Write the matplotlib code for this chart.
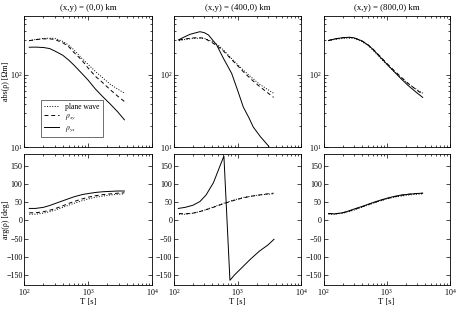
import numpy as np
import matplotlib
matplotlib.use("Agg")
import matplotlib.pyplot as plt
from matplotlib.ticker import LogLocator, NullFormatter

plt.rcParams['font.family'] = ['Liberation Serif', 'DejaVu Serif']
plt.rcParams['mathtext.fontset'] = 'stix'

# ---------------- data ----------------
titles = ["(x,y) = (0,0) km", "(x,y) = (400,0) km", "(x,y) = (800,0) km"]
T = [120, 150, 200, 250, 300, 400, 500, 600, 800, 1000, 1300, 1700, 2200, 2900, 3700]

# apparent resistivity [Ohm m]
pw_rho = [298, 310, 320, 323, 321, 292, 258, 222, 170, 140, 112, 91, 75, 64, 56]
xy_rho_0 = [298, 308, 316, 316, 310, 280, 245, 205, 160, 125, 96, 78, 63, 51, 43]
yx_rho_0 = [242, 243, 240, 232, 215, 188, 160, 137, 105, 85, 64, 50, 40, 31, 24]
xy_rho_400 = [305, 315, 326, 328, 322, 280, 245, 215, 165, 135, 106, 85, 70, 58, 49]
T_yx_400 = [117, 150, 180, 256, 300, 350, 470, 600, 810, 1000, 1235, 1500, 1775, 2300, 3055, 3700]
yx_rho_400 = [305, 340, 366, 397, 385, 357, 260, 170, 105, 62, 36, 26, 19, 14, 10.5, 8]
xy_rho_800 = [300, 315, 328, 332, 328, 298, 264, 230, 178, 145, 116, 93, 76, 63, 54]
yx_rho_800 = [300, 315, 328, 332, 328, 298, 262, 228, 175, 142, 112, 88, 71, 58, 49]

# phase [deg]
pw_phi = [17, 17, 20, 24, 28, 36, 42, 47, 54, 59, 64, 67, 70, 72, 73]
xy_phi_0 = [21, 21, 24, 28, 32, 40, 47, 52, 59, 64, 68, 71, 73, 75, 76]
yx_phi_0 = [33, 33, 36, 41, 46, 54, 60, 65, 71, 74, 77, 79, 80, 81, 81]
xy_phi_400 = [19, 18, 20, 24, 28, 35, 41, 46, 53, 58, 63, 67, 70, 73, 75]
T_yx_phi_400 = [117, 150, 200, 256, 320, 418, 530, 611, 760, 900, 1100, 1573, 2200, 3000, 3760]
yx_phi_400 = [33, 36, 42, 52, 70, 104, 150, 177, -165, -150, -135, -108, -85, -68, -52]
xy_phi_800 = [19, 18, 21, 25, 30, 37, 43, 48, 55, 60, 65, 69, 72, 74, 75]
yx_phi_800 = [19, 18, 21, 26, 31, 38, 44, 49, 56, 61, 66, 70, 72, 74, 75]

rho_xy = [xy_rho_0, xy_rho_400, xy_rho_800]
rho_yx = [(T, yx_rho_0), (T_yx_400, yx_rho_400), (T, yx_rho_800)]
phi_xy = [xy_phi_0, xy_phi_400, xy_phi_800]
phi_yx = [(T, yx_phi_0), (T_yx_phi_400, yx_phi_400), (T, yx_phi_800)]

# ---------------- figure ----------------
W, H = 457, 311
fig = plt.figure(figsize=(W / 100, H / 100), dpi=100)

cols = [(24.2, 152), (174, 301), (323.5, 450)]
rows = [(15.7, 147.3), (154, 285)]

def add_ax(c, r):
    x0, x1 = cols[c]
    y0, y1 = rows[r]
    return fig.add_axes([x0 / W, 1 - y1 / H, (x1 - x0) / W, (y1 - y0) / H])

lw = 0.7
fs = 6.3
tfs = 5.8
lfs = 5.8
lab_x = (10.0 - cols[0][0]) / (cols[0][1] - cols[0][0])
for i in range(3):
    ax = add_ax(i, 0)
    ax.plot(T, pw_rho, color='k', ls=':', lw=lw, label='plane wave')
    ax.plot(T, rho_xy[i], color='k', ls=(0, (4, 3)), lw=lw, label=r'$\rho_{xy}$')
    ax.plot(rho_yx[i][0], rho_yx[i][1], color='k', ls='-', lw=lw, label=r'$\rho_{yx}$')
    ax.set_xscale('log')
    ax.set_yscale('log')
    ax.set_xlim(100, 10000)
    ax.set_ylim(10, 10 ** 2.82)
    ax.set_yticks([10, 100])
    ax.yaxis.set_minor_locator(LogLocator(base=10, subs=np.arange(2, 10)))
    ax.yaxis.set_minor_formatter(NullFormatter())
    ax.xaxis.set_minor_formatter(NullFormatter())
    ax.set_xticklabels([])
    ax.tick_params(which='both', direction='in', top=True, right=True,
                   labelsize=tfs, width=0.5, pad=1.2)
    ax.tick_params(which='major', length=3)
    ax.tick_params(which='minor', length=1.5)
    ax.set_title(titles[i], fontsize=fs, pad=4)
    for s in ax.spines.values():
        s.set_linewidth(0.6)
    if i == 0:
        ax.set_ylabel('abs(ρ) [Ωm]', fontsize=lfs)
        ax.yaxis.set_label_coords(lab_x, 0.5)
        leg = ax.legend(loc='lower left', bbox_to_anchor=(0.13, 0.08),
                        fontsize=5.5, frameon=True, fancybox=False,
                        edgecolor='k', handlelength=2.0, borderpad=0.4,
                        labelspacing=0.15, handletextpad=0.8, borderaxespad=0)
        leg.get_frame().set_linewidth(0.5)

    ax2 = add_ax(i, 1)
    ax2.plot(T, pw_phi, color='k', ls=':', lw=lw)
    ax2.plot(T, phi_xy[i], color='k', ls=(0, (4, 3)), lw=lw)
    ax2.plot(phi_yx[i][0], phi_yx[i][1], color='k', ls='-', lw=lw)
    ax2.set_xscale('log')
    ax2.set_xlim(100, 10000)
    ax2.set_ylim(-178, 183)
    ax2.set_yticks([-150, -100, -50, 0, 50, 100, 150])
    ax2.xaxis.set_minor_formatter(NullFormatter())
    ax2.tick_params(which='both', direction='in', top=True, right=True,
                    labelsize=tfs, width=0.5, pad=1.2)
    ax2.tick_params(which='major', length=3)
    ax2.tick_params(which='minor', length=1.5)
    ax2.set_xlabel('T [s]', fontsize=fs, labelpad=0)
    for s in ax2.spines.values():
        s.set_linewidth(0.6)
    if i == 0:
        ax2.set_ylabel('arg(ρ) [deg]', fontsize=lfs)
        ax2.yaxis.set_label_coords(lab_x, 0.5)

fig.savefig('out.png', dpi=100)
